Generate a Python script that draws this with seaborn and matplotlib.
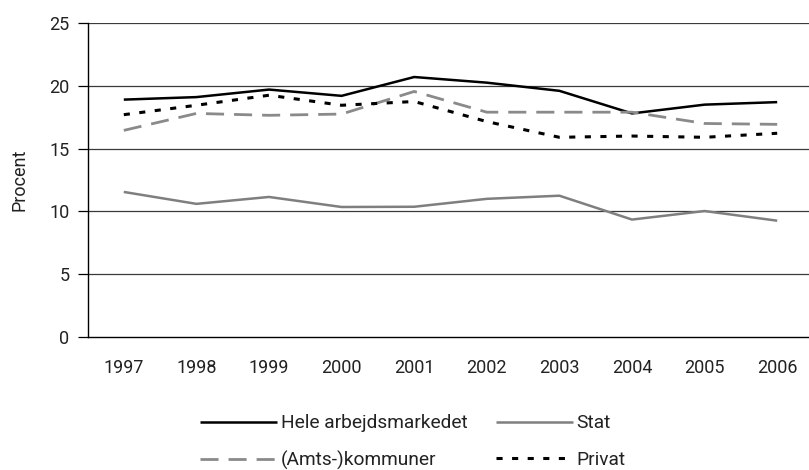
import matplotlib
matplotlib.use("Agg")
import matplotlib.pyplot as plt
import seaborn as sns
import numpy as np
import pandas as pd

years = ["1997", "1998", "1999", "2000", "2001", "2002", "2003", "2004", "2005", "2006"]
hele = [18.9, 19.1, 19.7, 19.2, 20.7, 20.25, 19.6, 17.8, 18.5, 18.7]
stat = [11.55, 10.6, 11.15, 10.35, 10.37, 11.0, 11.25, 9.35, 10.03, 9.26]
amts = [16.45, 17.8, 17.65, 17.75, 19.55, 17.9, 17.9, 17.9, 17.0, 16.93]
privat = [17.7, 18.45, 19.25, 18.45, 18.75, 17.15, 15.9, 16.0, 15.9, 16.22]

labels = ["Hele arbejdsmarkedet", "Stat", "(Amts-)kommuner", "Privat"]
yticks = [0, 5, 10, 15, 20, 25]

sns.set_theme(style="white")
plt.rcParams["font.family"] = ["Roboto", "DejaVu Sans"]

fig = plt.figure(figsize=(8.09, 4.70), dpi=100)
ax = fig.add_axes([87.5 / 809, 133 / 470, 726 / 809, 314 / 470])

x = np.arange(len(years))
df = pd.DataFrame({"x": x, "hele": hele, "stat": stat, "amts": amts, "privat": privat})

# grid lines first
for yv in yticks[1:]:
    ax.axhline(yv, color="#3a3a3a", linewidth=0.9, zorder=1)

sns.lineplot(data=df, x="x", y="hele", ax=ax, color="black", linewidth=1.8,
             label=labels[0], zorder=3)
sns.lineplot(data=df, x="x", y="amts", ax=ax, color="#8a8a8a", linewidth=2.0,
             dashes=False, linestyle=(0, (6.5, 3.6)), label=labels[2], zorder=3)
sns.lineplot(data=df, x="x", y="stat", ax=ax, color="#7f7f7f", linewidth=1.8,
             label=labels[1], zorder=3)
sns.lineplot(data=df, x="x", y="privat", ax=ax, color="black", linewidth=2.2,
             linestyle=(0, (2.0, 3.1)), label=labels[3], zorder=3)
for ln in ax.get_lines():
    ln.set_dash_capstyle("butt")
    ln.set_solid_capstyle("butt")

ax.set_xlim(-0.5, len(years) - 0.5)
ax.set_ylim(0, 25)
ax.set_yticks(yticks)
ax.set_yticklabels([str(v) for v in yticks], fontsize=13, color="#222222")
ax.set_xticks(x)
ax.set_xticklabels(years, fontsize=13, color="#222222")
ax.set_xticks(np.arange(-0.5, len(years)), minor=True)
ax.tick_params(axis="x", which="major", length=0, pad=16)
ax.tick_params(axis="x", which="minor", length=7, width=0.9, color="black", direction="out")
ax.tick_params(axis="y", which="major", length=7, width=0.9, color="black", direction="out", pad=6,
               left=True)
ax.set_xlabel("")
ax.set_ylabel("Procent", fontsize=13, color="#222222", labelpad=15)

for s in ["top", "right"]:
    ax.spines[s].set_visible(False)
for s in ["left", "bottom"]:
    ax.spines[s].set_visible(True)
    ax.spines[s].set_color("black")
    ax.spines[s].set_linewidth(1.0)
ax.grid(False)

handles, labs = ax.get_legend_handles_labels()
order = [labs.index(l) for l in ["Hele arbejdsmarkedet", "(Amts-)kommuner", "Stat", "Privat"]]
leg = fig.legend([handles[i] for i in order], [labs[i] for i in order], ncol=2,
                 loc="center", bbox_to_anchor=(413 / 809, 28 / 470), frameon=False,
                 fontsize=13.8, handlelength=4.0, handletextpad=0.2, columnspacing=1.5,
                 labelspacing=0.95, borderpad=0)
for t in leg.get_texts():
    t.set_color("#222222")
if ax.get_legend():
    ax.get_legend().remove()

fig.savefig("out.png", dpi=100)
